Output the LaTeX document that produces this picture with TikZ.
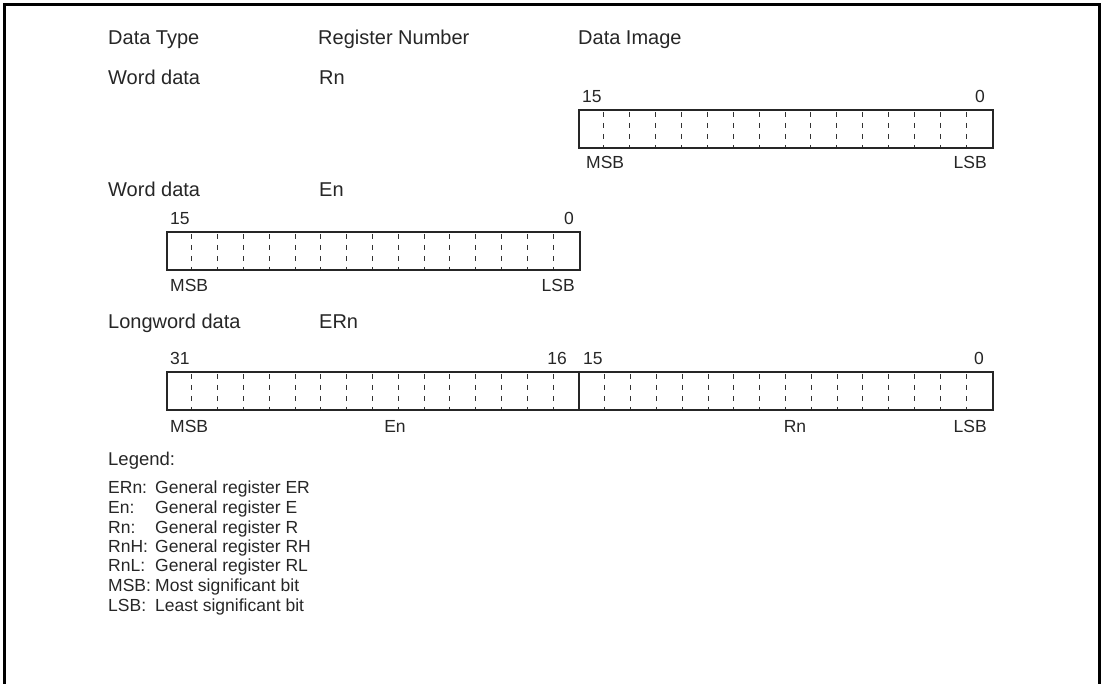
\documentclass[tikz,border=0pt]{standalone}
\usepackage{fontspec}
\setmainfont{Liberation Sans}
\begin{document}
\begin{tikzpicture}[x=1pt,y=-1pt,
  lbl/.style={inner sep=0pt, font=\fontsize{20}{23}\selectfont, text=black!85},
  bitlbl/.style={inner sep=0pt, font=\fontsize{17.5}{20}\selectfont, text=black!85},
  leg/.style={inner sep=0pt, font=\fontsize{17.5}{20}\selectfont, text=black!85},
  regbox/.style={draw=black!85, line width=2.4pt, inner sep=0pt, anchor=north west},
  divline/.style={draw=black!80, line width=0.9pt, dash pattern=on 5pt off 6pt},
  midline/.style={draw=black!85, line width=2.4pt}]
\useasboundingbox (0,0) rectangle (1104,684);
\draw[line width=3pt] (4,684) -- (4,5) -- (1099,5) -- (1099,684);

% headers
\node[lbl, anchor=base west] (hdtype) at (108,45) {Data Type};
\node[lbl, anchor=base west] (hreg) at (318,45) {Register Number};
\node[lbl, anchor=base west] (himg) at (578,45) {Data Image};

% row 1
\node[lbl, anchor=base west] (r1type) at (108,85) {Word data};
\node[lbl, anchor=base west] (r1reg) at (319,85) {Rn};
\node[regbox, minimum width=414pt, minimum height=38pt] (box1) at (578,109) {};
\foreach \i in {1,...,15} \draw[divline] ({578+\i*25.875},112) -- ++(0,35);
\node[bitlbl, anchor=base west] (b1hi) at (582,103) {15};
\node[bitlbl, anchor=base east] (b1lo) at (985,103) {0};
\node[bitlbl, anchor=base west] (b1msb) at (586,169) {MSB};
\node[bitlbl, anchor=base east] (b1lsb) at (987,169) {LSB};

% row 2
\node[lbl, anchor=base west] (r2type) at (108,197) {Word data};
\node[lbl, anchor=base west] (r2reg) at (319,197) {En};
\node[regbox, minimum width=413pt, minimum height=38pt] (box2) at (166,231) {};
\foreach \i in {1,...,15} \draw[divline] ({166+\i*25.8125},234) -- ++(0,35);
\node[bitlbl, anchor=base west] (b2hi) at (170,225) {15};
\node[bitlbl, anchor=base east] (b2lo) at (574,225) {0};
\node[bitlbl, anchor=base west] (b2msb) at (170,292) {MSB};
\node[bitlbl, anchor=base east] (b2lsb) at (575,292) {LSB};

% row 3
\node[lbl, anchor=base west] (r3type) at (108,329) {Longword data};
\node[lbl, anchor=base west] (r3reg) at (319,329) {ERn};
\node[regbox, minimum width=826pt, minimum height=38pt] (box3) at (166,371) {};
\foreach \i in {1,...,15} \draw[divline] ({166+\i*25.8125},374) -- ++(0,35);
\foreach \i in {1,...,15} \draw[divline] ({579+\i*25.8125},374) -- ++(0,35);
\draw[midline] (box3.north west) ++(413,0) coordinate (mtop) -- (mtop |- box3.south);
\node[bitlbl, anchor=base west] (b3hi) at (170,365) {31};
\node[bitlbl, anchor=base east] (b3m1) at (567,365) {16};
\node[bitlbl, anchor=base west] (b3m2) at (583,365) {15};
\node[bitlbl, anchor=base east] (b3lo) at (984,365) {0};
\node[bitlbl, anchor=base west] (b3msb) at (170,433) {MSB};
\node[bitlbl, anchor=base] (b3en) at (395,433) {En};
\node[bitlbl, anchor=base] (b3rn) at (795,433) {Rn};
\node[bitlbl, anchor=base east] (b3lsb) at (987,433) {LSB};

% legend
\node[lbl, anchor=base west, font=\fontsize{18.5}{21}\selectfont] (legend) at (108,466) {Legend:};
\foreach \k/\a/\b [count=\n] in {0/ERn:/General register ER, 1/En:/General register E, 2/Rn:/General register R, 3/RnH:/General register RH, 4/RnL:/General register RL, 5/MSB:/Most significant bit, 6/LSB:/Least significant bit} {
  \node[leg, anchor=base west] (lk\n) at (108,{494+\k*19.5}) {\a};
  \node[leg, anchor=base west] (lv\n) at (155,{494+\k*19.5}) {\b};
}
\end{tikzpicture}
\end{document}
